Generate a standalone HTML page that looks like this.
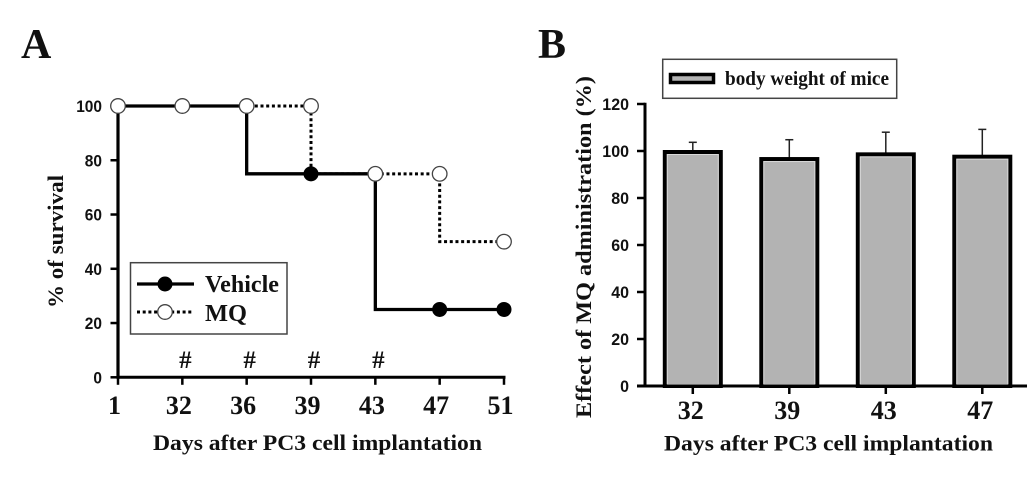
<!DOCTYPE html>
<html>
<head>
<meta charset="utf-8">
<style>
html,body{margin:0;padding:0;background:#fff;}
svg{display:block;}
.serif{font-family:"Liberation Serif",serif;font-weight:bold;fill:#111;}
.sans{font-family:"Liberation Sans",sans-serif;font-weight:bold;fill:#111;}
</style>
</head>
<body>
<svg id="fig" width="1033" height="478" viewBox="0 0 1033 478" xmlns="http://www.w3.org/2000/svg">
  <text class="serif" x="21" y="58" font-size="42">A</text>
  <text class="serif" x="538" y="58" font-size="42">B</text>

  <g id="panelA"></g>
  <g id="panelB"></g>

  <text class="serif" x="153" y="450" font-size="22.5" textLength="329" lengthAdjust="spacingAndGlyphs">Days after PC3 cell implantation</text>
  <text class="serif" transform="translate(63,308) rotate(-90)" font-size="22.5" textLength="133" lengthAdjust="spacingAndGlyphs">% of survival</text>

  <g>
    <rect x="130.5" y="262.7" width="156.5" height="71.3" fill="#fff" stroke="#444" stroke-width="1.5"/>
    <line x1="137" y1="284" x2="194" y2="284" stroke="#000" stroke-width="3.3"/>
    <circle cx="165" cy="284" r="7.5" fill="#000"/>
    <text class="serif" x="205" y="292" font-size="24.5" textLength="74" lengthAdjust="spacingAndGlyphs">Vehicle</text>
    <line x1="137" y1="312" x2="194" y2="312" stroke="#000" stroke-width="3" stroke-dasharray="3 2.7"/>
    <circle cx="165" cy="312" r="7.3" fill="#fff" stroke="#444" stroke-width="1.3"/>
    <text class="serif" x="205" y="321" font-size="24.5" textLength="42" lengthAdjust="spacingAndGlyphs">MQ</text>
  </g>

  <text class="serif" x="664" y="450.5" font-size="22.5" textLength="329" lengthAdjust="spacingAndGlyphs">Days after PC3 cell implantation</text>
  <text class="serif" transform="translate(591,418) rotate(-90)" font-size="22.5" textLength="342" lengthAdjust="spacingAndGlyphs">Effect of MQ administration (%)</text>

  <g>
    <rect x="662.7" y="59.3" width="234" height="39" fill="#fff" stroke="#444" stroke-width="1.5"/>
    <rect x="670.5" y="74.5" width="43" height="8" fill="#b3b3b3" stroke="#000" stroke-width="3.5"/>
    <text class="serif" x="725" y="85" font-size="20" textLength="164" lengthAdjust="spacingAndGlyphs">body weight of mice</text>
  </g>
</svg>
<script>
// Panel A data
const survivalDays = ["1", "32", "36", "39", "43", "47", "51"];
const vehicleSurvival = [100, 100, 100, 75, 75, 25, 25];
const mqSurvival = [100, 100, 100, 100, 75, 75, 50];
const survivalTicks = [0, 20, 40, 60, 80, 100];
const significantDays = ["32", "36", "39", "43"];

// Panel B data
const weightDays = ["32", "39", "43", "47"];
const weightValues = [100, 97, 99, 98];
const weightErrors = [3.7, 7.8, 9, 11.2];
const weightTicks = [0, 20, 40, 60, 80, 100, 120];

const NS = "http://www.w3.org/2000/svg";
function make(parent, tag, attrs, text) {
  const el = document.createElementNS(NS, tag);
  for (const k in attrs) el.setAttribute(k, attrs[k]);
  if (text !== undefined) el.textContent = text;
  parent.appendChild(el);
  return el;
}

// Panel A axes
const xA = i => 118 + i * (504 - 118) / (survivalDays.length - 1);
const yA = v => 377.3 - v * 2.713;
// Panel B axes
const xB = i => 692.8 + i * 96.5;
const yB = v => 386 - v * 2.35;

const A = document.getElementById("panelA");
const B = document.getElementById("panelB");

function stepPath(values) {
  let d = "M" + xA(0) + " " + yA(values[0]);
  for (let i = 1; i < values.length; i++) {
    d += "L" + xA(i - 1) + " " + yA(values[i]);
    d += "L" + xA(i) + " " + yA(values[i]);
  }
  return d;
}

// Panel A axis lines and ticks
const axisYA = make(A, "line", {x1: xA(0), y1: yA(100) - 1.5, x2: xA(0), y2: yA(0) + 1.5, stroke: "#000", "stroke-width": 3.2});


const axisXA = make(A, "line", {x1: xA(0), y1: yA(0), x2: xA(survivalDays.length - 1) + 1.5, y2: yA(0), stroke: "#000", "stroke-width": 3});



survivalTicks.forEach(t => {
  const tick = make(A, "line", {x1: xA(0) - 7.5, y1: yA(t), x2: xA(0), y2: yA(t), stroke: "#000", "stroke-width": 2.5});
  
  
  const label = make(A, "text", {class: "sans", x: 102, y: yA(t) + 6, "font-size": 16.5, "text-anchor": "end", textLength: String(t).length * 8.6, lengthAdjust: "spacingAndGlyphs"}, String(t));
  
  
});

survivalDays.forEach((d, i) => {
  const tick = make(A, "line", {x1: xA(i), y1: yA(0), x2: xA(i), y2: yA(0) + 7.5, stroke: "#000", "stroke-width": 2.5});
  
  
  const label = make(A, "text", {class: "serif", x: xA(i) - 3.5, y: 414, "font-size": 26, "text-anchor": "middle"}, d);
  
  
});

significantDays.forEach(d => {
  const i = survivalDays.indexOf(d);
  const mark = make(A, "text", {class: "serif", x: xA(i) + 3, y: 368, "font-size": 25, "text-anchor": "middle"}, "#");
  
  
});

// Panel A series
const mqLine = make(A, "path", {d: stepPath(mqSurvival), fill: "none", stroke: "#000", "stroke-width": 3, "stroke-dasharray": "3 2.7"});


const vehicleLine = make(A, "path", {d: stepPath(vehicleSurvival), fill: "none", stroke: "#000", "stroke-width": 3.3});



vehicleSurvival.forEach((v, i) => {
  const pt = make(A, "circle", {cx: xA(i), cy: yA(v), r: 7.5, fill: "#000"});
  
  
});
mqSurvival.forEach((v, i) => {
  const pt = make(A, "circle", {cx: xA(i), cy: yA(v), r: 7.3, fill: "#fff", stroke: "#444", "stroke-width": 1.3});
  
  
});

// Panel B bars
weightValues.forEach((v, i) => {
  const cx = xB(i);
  const top = yB(v) + 1;
  const err = yB(v + weightErrors[i]);
  const eb = make(B, "line", {x1: cx, y1: top, x2: cx, y2: err, stroke: "#222", "stroke-width": 1.5});
  
  
  const cap = make(B, "line", {x1: cx - 4, y1: err, x2: cx + 4, y2: err, stroke: "#222", "stroke-width": 1.5});
  
  
  const bar = make(B, "rect", {x: cx - 28, y: top, width: 56, height: yB(0) - top, fill: "#b3b3b3", stroke: "#000", "stroke-width": 4});
  
  
  const inner = make(B, "rect", {x: cx - 25.5, y: top + 2.5, width: 51, height: yB(0) - top - 4, fill: "none", stroke: "#d9d9d9", "stroke-width": 1});
  
  
  const tick = make(B, "line", {x1: cx, y1: yB(0), x2: cx, y2: yB(0) + 8, stroke: "#000", "stroke-width": 2.5});
  
  
  const label = make(B, "text", {class: "serif", x: cx - 2, y: 419, "font-size": 26, "text-anchor": "middle"}, weightDays[i]);
  
  
});

// Panel B axis lines and ticks
const axisYB = make(B, "line", {x1: 645, y1: yB(120) - 1.2, x2: 645, y2: yB(0) + 1.5, stroke: "#000", "stroke-width": 3});


const axisXB = make(B, "line", {x1: 637, y1: yB(0), x2: 1027, y2: yB(0), stroke: "#000", "stroke-width": 3});



weightTicks.forEach(t => {
  const tick = make(B, "line", {x1: 637, y1: yB(t), x2: 645, y2: yB(t), stroke: "#000", "stroke-width": 2.5});
  
  
  const label = make(B, "text", {class: "sans", x: 629, y: yB(t) + 6, "font-size": 16.5, "text-anchor": "end", textLength: String(t).length * 8.9, lengthAdjust: "spacingAndGlyphs"}, String(t));
  
  
});
</script>
</body>
</html>
